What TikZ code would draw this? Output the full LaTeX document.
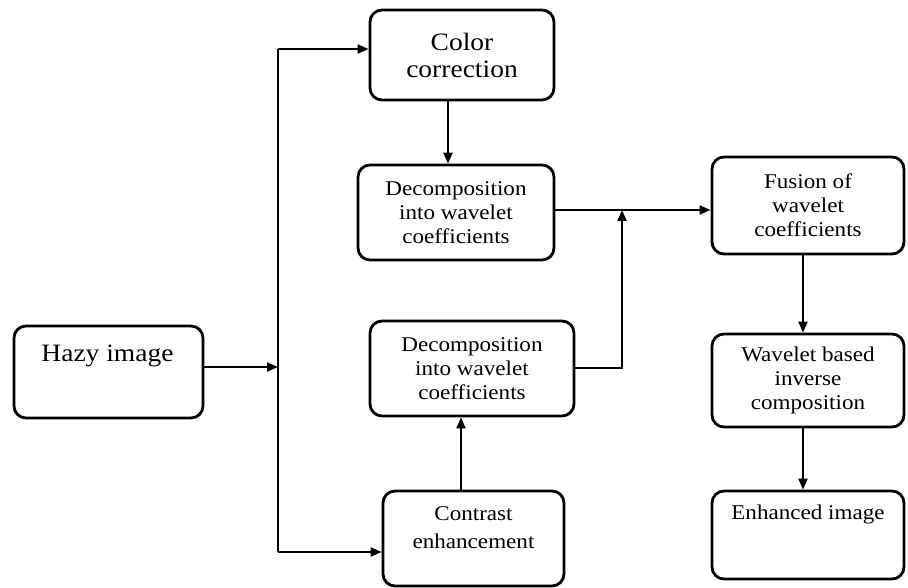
\documentclass[tikz,border=0pt]{standalone}
\usepackage{fontspec}
\setmainfont[FakeStretch=1.1]{Liberation Serif}
\usetikzlibrary{arrows.meta,calc}
\begin{document}
\begin{tikzpicture}[x=1pt,y=-1pt,
  box/.style={draw,line width=2.8pt,rounded corners=12pt,inner sep=0pt},
  txt/.style={align=center,font=\fontsize{21}{24}\selectfont,inner sep=0pt},
  bigtxt/.style={align=center,font=\fontsize{25}{27}\selectfont,inner sep=0pt},
  arr/.style={line width=2pt,-{Triangle[length=11pt,width=9pt]}}]
\useasboundingbox[fill=white] (0,0) rectangle (908,588);
% boxes
\node[box,minimum width=189pt,minimum height=92pt] (hazy) at (108.5,372) {};
\node[bigtxt] (hazyt) at (107.5,356) {Hazy image};
\node[box,minimum width=184pt,minimum height=90pt,bigtxt] (color) at (462,55) {Color\\correction};
\node[box,minimum width=196pt,minimum height=95pt,txt] (dec1) at (456,212.5) {Decomposition\\into wavelet\\coefficients};
\node[box,minimum width=204pt,minimum height=95pt,txt] (dec2) at (472,368.5) {Decomposition\\into wavelet\\coefficients};
\node[box,minimum width=181pt,minimum height=95pt] (con) at (473.5,538.5) {};
\node[txt,font=\fontsize{21}{28}\selectfont] (cont) at (473.5,527.5) {Contrast\\enhancement};
\node[box,minimum width=192pt,minimum height=97pt,txt] (fus) at (808,205.5) {Fusion of\\wavelet\\coefficients};
\node[box,minimum width=192pt,minimum height=93pt,txt] (wav) at (808,380.5) {Wavelet based\\inverse\\composition};
\node[box,minimum width=192pt,minimum height=88pt] (enh) at (808,535) {};
\node[txt] (enht) at (808,514) {Enhanced image};
% trunk
\coordinate (jt) at (278,49);
\coordinate (jm) at (278,367);
\coordinate (jb) at (278,552);
\draw[line width=2.4pt] (jt) -- (jb);
\draw[arr] (hazy.east |- jm) -- (jm);
\draw[arr] (jt) -- (color.west |- jt);
\draw[arr] (jb) -- (con.west |- jb);
% color -> dec1
\draw[arr] ([xshift=-14pt]color.south) -- ([xshift=-14pt]color.south |- dec1.north);
% dec1 -> fusion
\coordinate (jf) at (622,210);
\draw[arr] (dec1.east |- jf) -- (fus.west |- jf);
\draw[arr] (dec2.east |- 0,368) -| (jf);
% contrast -> dec2
\draw[arr] (con.north -| 461,0) -- (dec2.south -| 461,0);
% fusion -> wavelet -> enhanced
\draw[arr] ([xshift=-5pt]fus.south) -- ([xshift=-5pt]fus.south |- wav.north);
\draw[arr] ([xshift=-5pt]wav.south) -- ([xshift=-5pt]wav.south |- enh.north);
\end{tikzpicture}
\end{document}
